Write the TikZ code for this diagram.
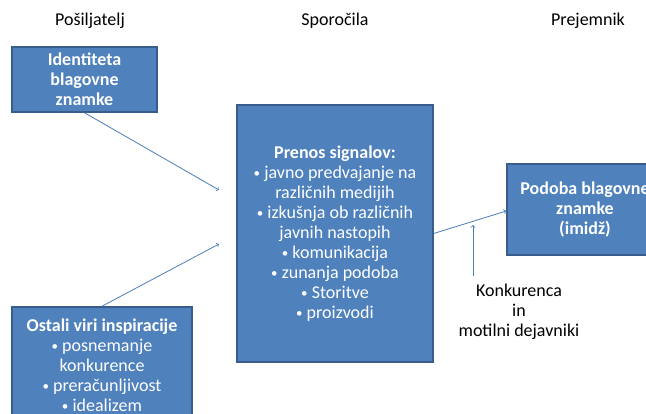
\documentclass[tikz,border=0pt]{standalone}
\usepackage{fontspec}
\setmainfont{Carlito}
\usetikzlibrary{calc}
\usepackage{xcolor}

\definecolor{boxblue}{HTML}{4F81BD}
\definecolor{boxedge}{HTML}{385D8A}
\definecolor{linkblue}{HTML}{4A7EBB}

\newcommand{\bul}{{\fontsize{13}{13}\selectfont\raisebox{1.2pt}{•}}\ }

\tikzset{
  bluebox/.style={rectangle, fill=boxblue, draw=boxedge, line width=1.5pt, text=white, align=center, inner sep=0, font=\fontsize{18}{20}\selectfont},
  plaintext/.style={align=center, inner sep=0, font=\fontsize{18}{20}\selectfont},
  link/.style={->, linkblue, line width=0.8pt}
}

\begin{document}
\begin{tikzpicture}[x=1pt,y=-1pt]

\useasboundingbox (0,0) rectangle (646,414);
\clip (0,0) rectangle (646,414);

% column titles
\node[plaintext] (sender) at (90,21) {Pošiljatelj};
\node[plaintext] (messages) at (335,21) {Sporočila};
\node[plaintext] (receiver) at (588,21) {Prejemnik};

\node[bluebox, minimum width=145, minimum height=65] (ident) at (84.5,79.5) {\textbf{Identiteta}\\\textbf{blagovne}\\\textbf{znamke}};

\node[bluebox, minimum width=180, minimum height=116] (other) at (102,365) {\textbf{Ostali viri inspiracije}\\\bul posnemanje\\konkurence\\\bul preračunljivost\\\bul idealizem};

\node[bluebox, minimum width=196, minimum height=257] (signal) at (335,233.5) {\textbf{Prenos signalov:}\\\bul javno predvajanje na\\različnih medijih\\\bul izkušnja ob različnih\\javnih nastopih\\\bul komunikacija\\\bul zunanja podoba\\\bul Storitve\\\bul proizvodi};

\node[bluebox, minimum width=156, minimum height=91] (image) at (585,209.5) {\textbf{Podoba blagovne}\\\textbf{znamke}\\\textbf{(imidž)}};

\node[plaintext] (rivals) at (519,312) {Konkurenca\\in\\motilni dejavniki};

\coordinate (in1) at (219,190);
\coordinate (in2) at (219,244);
\draw[link] (ident.south) -- (in1);
\draw[link] (other.north) -- (in2);

\draw[link] (signal.east) -- ($(image.west)+(0,1.5)$);

\coordinate (up1) at (473,276);
\coordinate (up2) at (473,225);
\draw[link] (up1) -- (up2);

\end{tikzpicture}
\end{document}
